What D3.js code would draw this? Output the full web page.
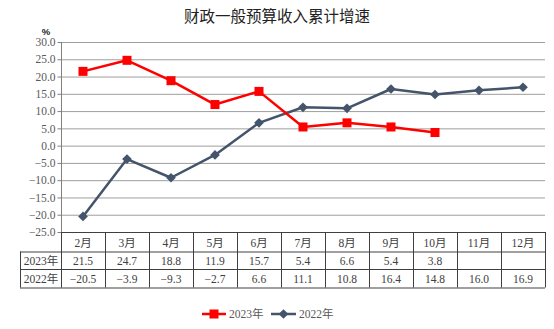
<!DOCTYPE html>
<html>
<head>
<meta charset="utf-8">
<script src="https://cdn.jsdelivr.net/npm/d3@7"></script>
<style>
  html, body { margin: 0; padding: 0; background: #fff; }
  svg { display: block; }
</style>
</head>
<body>
<svg id="chart" width="554" height="329"></svg>
<script>
// Months shown along the x axis and in the data table
const months = ["2月", "3月", "4月", "5月", "6月", "7月", "8月", "9月", "10月", "11月", "12月"];
// Cumulative growth rate (%) of general budget revenue
const values2023 = [21.5, 24.7, 18.8, 11.9, 15.7, 5.4, 6.6, 5.4, 3.8, null, null];
const values2022 = [-20.5, -3.9, -9.3, -2.7, 6.6, 11.1, 10.8, 16.4, 14.8, 16.0, 16.9];
const yTicks = [30, 25, 20, 15, 10, 5, 0, -5, -10, -15, -20, -25];
const seriesNames = ["2023年", "2022年"];

(function () {
const svg = d3.select("#chart");
const plotLeft = 61, plotRight = 545, plotTop = 42, plotBottom = 232;
const labelLeft = 20;
const rowH = [19.5, 17.5, 18.5];

const x = d3.scaleBand().domain(months).range([plotLeft, plotRight]);
const y = d3.scaleLinear().domain([-25, 30]).range([plotBottom, plotTop]);

const serif = "'Liberation Serif', 'DejaVu Serif', serif";
const cjk = "'Noto Sans CJK SC', sans-serif";
const red = "#FF0000", navy = "#44546A";

// Title
svg.append("text")
  .attr("x", 277).attr("y", 22)
  .attr("text-anchor", "middle")
  .attr("font-family", cjk)
  .attr("font-size", 15.5)
  .attr("fill", "#222")
  .text("财政一般预算收入累计增速");

// Gridlines
svg.append("g").selectAll("line")
  .data(yTicks)
  .join("line")
  .attr("x1", plotLeft).attr("x2", plotRight)
  .attr("y1", d => y(d) + 0.5).attr("y2", d => y(d) + 0.5)
  .attr("stroke", "#9E9E9E").attr("stroke-width", 1);

// Y axis
const yAxis = d3.axisLeft(y).tickValues(yTicks).tickSize(4).tickPadding(2)
  .tickFormat(d => (d < 0 ? "\u2212" : "") + Math.abs(d).toFixed(1));
const yg = svg.append("g").attr("transform", `translate(${plotLeft + 0.5},0)`).call(yAxis);
yg.select(".domain").remove();
yg.selectAll(".tick line").attr("stroke", "#808080");
yg.selectAll(".tick text")
  .attr("font-family", serif).attr("font-size", 11.5).attr("fill", "#595959");
svg.append("line")
  .attr("x1", plotLeft + 0.5).attr("x2", plotLeft + 0.5)
  .attr("y1", plotTop).attr("y2", plotBottom + rowH[0] + rowH[1] + rowH[2])
  .attr("stroke", "#808080");

// Unit label
svg.append("text")
  .attr("x", 46).attr("y", 35)
  .attr("text-anchor", "middle")
  .attr("font-family", "'Liberation Sans', Arial, sans-serif")
  .attr("font-weight", "bold")
  .attr("font-size", 9.5)
  .attr("fill", "#222")
  .text("%");

// Data table below the plot
const table = svg.append("g");
const rowTop = [plotBottom, plotBottom + rowH[0], plotBottom + rowH[0] + rowH[1]];
const tableBottom = plotBottom + rowH[0] + rowH[1] + rowH[2];
const lineStyle = sel => sel.attr("stroke", "#404040").attr("stroke-width", 1);

// horizontal rules
table.append("line").attr("x1", plotLeft).attr("x2", plotRight).attr("y1", rowTop[0] + 0.5).attr("y2", rowTop[0] + 0.5).call(lineStyle);
[rowTop[1], rowTop[2], tableBottom].forEach(yy => {
  table.append("line").attr("x1", labelLeft).attr("x2", plotRight).attr("y1", yy + 0.5).attr("y2", yy + 0.5).call(lineStyle);
});
// vertical rules
months.forEach(m => {
  table.append("line")
    .attr("x1", x(m) + x.bandwidth() + 0.5).attr("x2", x(m) + x.bandwidth() + 0.5)
    .attr("y1", rowTop[0]).attr("y2", tableBottom).call(lineStyle);
});
table.append("line").attr("x1", plotLeft + 0.5).attr("x2", plotLeft + 0.5).attr("y1", rowTop[0]).attr("y2", tableBottom).call(lineStyle);
table.append("line").attr("x1", labelLeft + 0.5).attr("x2", labelLeft + 0.5).attr("y1", rowTop[1]).attr("y2", tableBottom).call(lineStyle);

const cellText = (tx, ty, t, family) => table.append("text")
  .attr("x", tx).attr("y", ty)
  .attr("text-anchor", "middle")
  .attr("dominant-baseline", "central")
  .attr("font-family", family)
  .attr("font-size", 11.5)
  .attr("fill", "#404040")
  .text(t);

const mixed = serif + ", " + cjk;
months.forEach(m => cellText(x(m) + x.bandwidth() / 2, rowTop[0] + rowH[0] / 2 + 1, m, mixed));
cellText((labelLeft + plotLeft) / 2 + 0.5, rowTop[1] + rowH[1] / 2 + 0.5, seriesNames[0], mixed);
cellText((labelLeft + plotLeft) / 2 + 0.5, rowTop[2] + rowH[2] / 2 + 0.5, seriesNames[1], mixed);
const fmt = v => v == null ? "" : (v < 0 ? "\u2212" : "") + Math.abs(v).toFixed(1);
months.forEach((m, i) => {
  cellText(x(m) + x.bandwidth() / 2, rowTop[1] + rowH[1] / 2 + 0.5, fmt(values2023[i]), serif);
  cellText(x(m) + x.bandwidth() / 2, rowTop[2] + rowH[2] / 2 + 0.5, fmt(values2022[i]), serif);
});

// Series lines and markers
const cx = i => x(months[i]) + x.bandwidth() / 2;
const line = d3.line()
  .defined(d => d.v != null)
  .x(d => cx(d.i)).y(d => y(d.v));
const pts2022 = values2022.map((v, i) => ({ v, i }));
const pts2023 = values2023.map((v, i) => ({ v, i }));

svg.append("path").datum(pts2022)
  .attr("d", line).attr("fill", "none")
  .attr("stroke", navy).attr("stroke-width", 2.5).attr("stroke-linejoin", "round");
svg.append("g").selectAll("path")
  .data(pts2022.filter(d => d.v != null))
  .join("path")
  .attr("transform", d => `translate(${cx(d.i)},${y(d.v)})`)
  .attr("d", d3.symbol(d3.symbolDiamond2, 60)())
  .attr("fill", navy);

svg.append("path").datum(pts2023)
  .attr("d", line).attr("fill", "none")
  .attr("stroke", red).attr("stroke-width", 2.5).attr("stroke-linejoin", "round");
svg.append("g").selectAll("rect")
  .data(pts2023.filter(d => d.v != null))
  .join("rect")
  .attr("x", d => cx(d.i) - 4.5).attr("y", d => y(d.v) - 4.5)
  .attr("width", 9).attr("height", 9)
  .attr("fill", red);

// Legend
const legend = svg.append("g").attr("font-family", mixed).attr("font-size", 11.5).attr("fill", "#595959");
const ly = 314;
legend.append("line").attr("x1", 202).attr("x2", 226).attr("y1", ly).attr("y2", ly).attr("stroke", red).attr("stroke-width", 2.5);
legend.append("rect").attr("x", 209.5).attr("y", ly - 4.5).attr("width", 9).attr("height", 9).attr("fill", red);
legend.append("text").attr("x", 229).attr("y", ly).attr("dominant-baseline", "central").text(seriesNames[0]);
legend.append("line").attr("x1", 271).attr("x2", 296).attr("y1", ly).attr("y2", ly).attr("stroke", navy).attr("stroke-width", 2.5);
legend.append("path").attr("transform", `translate(283.5,${ly})`).attr("d", d3.symbol(d3.symbolDiamond2, 60)()).attr("fill", navy);
legend.append("text").attr("x", 299).attr("y", ly).attr("dominant-baseline", "central").text(seriesNames[1]);
})();
</script>
</body>
</html>
